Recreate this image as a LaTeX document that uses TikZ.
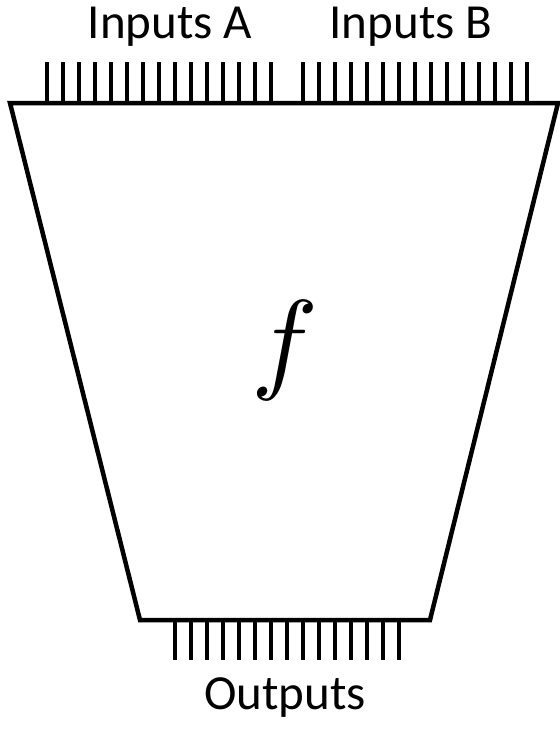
\documentclass[tikz,border=0pt]{standalone}
\usepackage{fontspec}
\setmainfont{Carlito}
\usepackage{unicode-math}
\setmathfont{Latin Modern Math}
\usetikzlibrary{positioning}

\begin{document}
\begin{tikzpicture}[
  x=1pt, y=-1pt, line width=4.5pt,
  label/.style={font=\fontsize{49}{49}\selectfont, inner sep=0pt},
  wire/.style={line cap=butt}
]
\useasboundingbox (0,0) rectangle (560,737);

% the block
\draw[line join=miter] (10,103) -- (558,103) -- (430,620) -- (140,620) -- cycle;
\node[font=\fontsize{112}{112}\selectfont, inner sep=0pt] (func) at (284,350) {$f$};

% input and output wires
\foreach \i in {0,...,14} {
  \draw[wire] (47+16*\i,62) -- (47+16*\i,103);
  \draw[wire] (303+16*\i,62) -- (303+16*\i,103);
  \draw[wire] (175+16*\i,620) -- (175+16*\i,660);
}

\node[label] (inA) at (170,27) {Inputs A};
\node[label] (inB) at (411,27) {Inputs B};
\node[label] (outs) at (285,698) {Outputs};
\end{tikzpicture}
\end{document}
